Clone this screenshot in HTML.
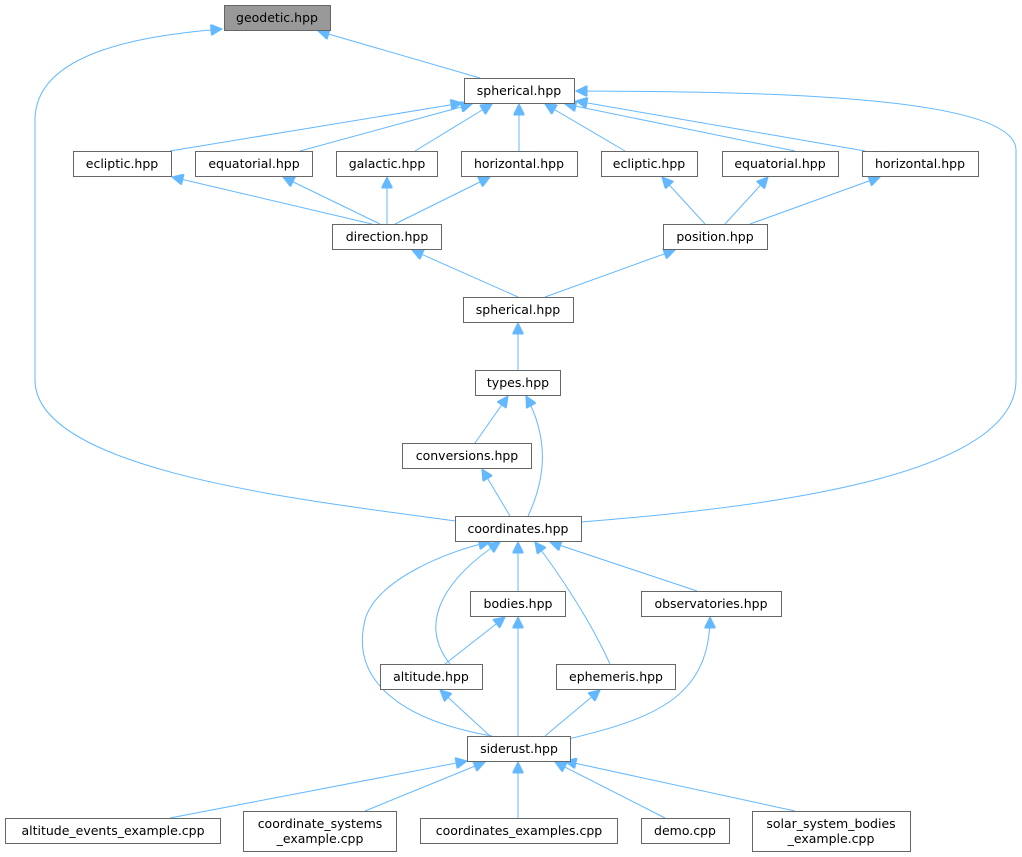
<!DOCTYPE html><html><head><style>body{margin:0;background:#fff}svg{display:block}text{font-family:"DejaVu Sans","Liberation Sans",sans-serif;font-size:12.5px;fill:#000}</style></head><body>
<svg width="1022" height="857" viewBox="0 0 1022 857">
<defs><marker id="a" viewBox="0 0 10 10" refX="10" refY="5" markerWidth="13" markerHeight="11" markerUnits="userSpaceOnUse" orient="auto"><path d="M0,0L10,5L0,10z" fill="#63b8ff" stroke="#63b8ff"/></marker></defs>
<g fill="none" stroke="#63b8ff" stroke-width="1" marker-end="url(#a)">
<path d="M480,78L318,31"/>
<path d="M456,521C300,500 35,470 35,380L35,120C35,50 150,35 222,29"/>
<path d="M581,522C800,505 1016,470 1016,380L1016,150C1016,90 700,92 576,91"/>
<path d="M170,151L462,103"/>
<path d="M300,151L472,104"/>
<path d="M415,151L492,104"/>
<path d="M519,151L519,104"/>
<path d="M625,151L545,104"/>
<path d="M795,151L565,104"/>
<path d="M865,151L576,101"/>
<path d="M372,224L172,177"/>
<path d="M380,224L283,177"/>
<path d="M387,224L387,177"/>
<path d="M395,224L490,177"/>
<path d="M705,224L662,177"/>
<path d="M725,224L768,177"/>
<path d="M750,224L880,177"/>
<path d="M518,297L412,250"/>
<path d="M545,297L675,250"/>
<path d="M518,370L518,323"/>
<path d="M475,443L508,396"/>
<path d="M528,516C545,480 550,440 526,396"/>
<path d="M510,516L482,469"/>
<path d="M518,591L518,542"/>
<path d="M697,591L550,542"/>
<path d="M450,664C415,620 450,575 500,542"/>
<path d="M610,664C590,620 560,575 535,542"/>
<path d="M492,736C400,720 350,680 365,620C375,580 450,550 490,542"/>
<path d="M445,664L505,617"/>
<path d="M518,736L518,617"/>
<path d="M490,736L440,690"/>
<path d="M545,736L600,690"/>
<path d="M560,741C650,720 710,700 710,617"/>
<path d="M170,818L467,761"/>
<path d="M365,811L485,762"/>
<path d="M518,818L518,762"/>
<path d="M665,818L555,762"/>
<path d="M795,811L565,761"/>
</g>
<g stroke="#666" stroke-width="1" fill="#fff">
<rect x="224.5" y="5.5" width="106" height="25" fill="#999"/>
<rect x="464.5" y="78.5" width="110" height="25"/>
<rect x="73.5" y="151.5" width="98" height="25"/>
<rect x="195.5" y="151.5" width="117" height="25"/>
<rect x="336.5" y="151.5" width="101" height="25"/>
<rect x="461.5" y="151.5" width="116" height="25"/>
<rect x="601.5" y="151.5" width="96" height="25"/>
<rect x="722.5" y="151.5" width="116" height="25"/>
<rect x="862.5" y="151.5" width="116" height="25"/>
<rect x="332.5" y="224.5" width="109" height="25"/>
<rect x="663.5" y="224.5" width="104" height="25"/>
<rect x="463.5" y="297.5" width="110" height="25"/>
<rect x="475.5" y="370.5" width="85" height="25"/>
<rect x="402.5" y="443.5" width="129" height="25"/>
<rect x="455.5" y="516.5" width="126" height="25"/>
<rect x="470.5" y="591.5" width="95" height="25"/>
<rect x="641.5" y="591.5" width="140" height="25"/>
<rect x="380.5" y="664.5" width="102" height="25"/>
<rect x="556.5" y="664.5" width="119" height="25"/>
<rect x="467.5" y="736.5" width="103" height="25"/>
<rect x="5.5" y="818.5" width="215" height="25"/>
<rect x="243.5" y="811.5" width="153" height="40"/>
<rect x="420.5" y="818.5" width="197" height="25"/>
<rect x="641.5" y="818.5" width="88" height="25"/>
<rect x="752.5" y="811.5" width="158" height="40"/>
</g>
<g text-anchor="middle">
<text x="277" y="22">geodetic.hpp</text>
<text x="519" y="95">spherical.hpp</text>
<text x="122" y="168">ecliptic.hpp</text>
<text x="254" y="168">equatorial.hpp</text>
<text x="387" y="168">galactic.hpp</text>
<text x="519" y="168">horizontal.hpp</text>
<text x="649" y="168">ecliptic.hpp</text>
<text x="780" y="168">equatorial.hpp</text>
<text x="920" y="168">horizontal.hpp</text>
<text x="387" y="241">direction.hpp</text>
<text x="715" y="241">position.hpp</text>
<text x="518" y="314">spherical.hpp</text>
<text x="518" y="387">types.hpp</text>
<text x="467" y="460">conversions.hpp</text>
<text x="518" y="533">coordinates.hpp</text>
<text x="518" y="608">bodies.hpp</text>
<text x="711" y="608">observatories.hpp</text>
<text x="431" y="681">altitude.hpp</text>
<text x="616" y="681">ephemeris.hpp</text>
<text x="519" y="753">siderust.hpp</text>
<text x="113" y="835">altitude_events_example.cpp</text>
<text x="320" y="828">coordinate_systems</text>
<text x="320" y="843">_example.cpp</text>
<text x="519" y="835">coordinates_examples.cpp</text>
<text x="685" y="835">demo.cpp</text>
<text x="831" y="828">solar_system_bodies</text>
<text x="831" y="843">_example.cpp</text>
</g>
</svg></body></html>
